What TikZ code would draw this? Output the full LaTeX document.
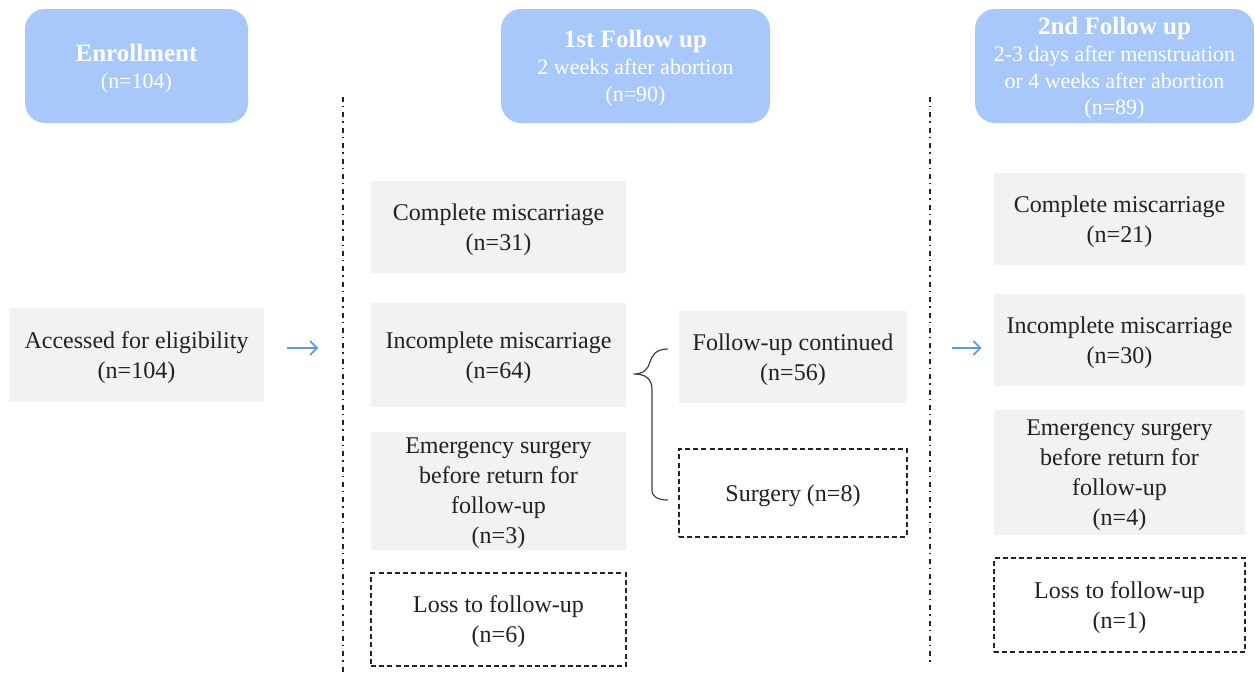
\documentclass[tikz,border=0pt]{standalone}
\usepackage{fontspec}
\setmainfont{Liberation Serif}
\usetikzlibrary{arrows.meta}

\definecolor{headblue}{HTML}{A8C7FA}
\definecolor{boxgray}{HTML}{F2F2F2}
\definecolor{arrblue}{HTML}{5B9BE6}
\definecolor{bracegray}{HTML}{404040}

\tikzset{
  head/.style={fill=headblue, rounded corners=10pt, text=white, align=center,
    inner sep=0pt, minimum height=57pt, text depth=-1.6pt,
    font=\fontsize{11}{13.4}\selectfont},
  graybox/.style={fill=boxgray, align=center, inner sep=0pt, text depth=-1.2pt,
    minimum width=127.5pt, text=black!87, font=\fontsize{12}{15}\selectfont},
  lossbox/.style={graybox, fill=white, draw=black!85, line width=0.8pt,
    dash pattern=on 2.5pt off 1.6pt},
  arr/.style={-{Straight Barb[length=3.5pt,width=7pt]}, arrblue, line width=0.9pt},
  divider/.style={black!85, line width=0.8pt,
    dash pattern=on 2.5pt off 2pt on 0.7pt off 2.5pt}
}

\begin{document}
\begin{tikzpicture}[x=0.5pt, y=-0.5pt]
\useasboundingbox (0,0) rectangle (1255,675);

% Headers
\node[head, minimum width=111.5pt] (enr) at (136.5,66)
  {\textbf{\fontsize{12.5}{14}\selectfont Enrollment}\\(n=104)};
\node[head, minimum width=134.5pt] (fuA) at (635.5,66)
  {\textbf{\fontsize{12.5}{14}\selectfont 1st Follow up}\\2 weeks after abortion\\(n=90)};
\node[head, minimum width=139.5pt] (fuB) at (1114.5,66)
  {\textbf{\fontsize{12.5}{14}\selectfont 2nd Follow up}\\2-3 days after menstruation\\or 4 weeks after abortion\\(n=89)};

% Dividers
\draw[divider] (343,97) -- (343,675);
\draw[divider] (930,97) -- (930,665);

% Enrollment
\node[graybox, minimum height=47pt] (acc) at (136.5,355) {Accessed for eligibility\\(n=104)};

% 1st follow up
\node[graybox, minimum height=46pt] (cmA) at (498.5,227) {Complete miscarriage\\(n=31)};
\node[graybox, minimum height=52pt] (imA) at (498.5,355) {Incomplete miscarriage\\(n=64)};
\node[graybox, minimum height=59pt] (esA) at (498.5,491) {Emergency surgery\\before return for\\follow-up\\(n=3)};
\node[lossbox, minimum height=46.5pt] (lfA) at (498.5,619.5) {Loss to follow-up\\(n=6)};
\node[graybox, minimum width=114pt, minimum height=46pt] (fc) at (793,357) {Follow-up continued\\(n=56)};
\node[lossbox, minimum width=114pt, minimum height=44pt] (sg) at (793,493) {Surgery (n=8)};

% 2nd follow up
\node[graybox, minimum width=125.5pt, minimum height=46pt] (cmB) at (1119.5,219) {Complete miscarriage\\(n=21)};
\node[graybox, minimum width=125.5pt, minimum height=46pt] (imB) at (1119.5,340) {Incomplete miscarriage\\(n=30)};
\node[graybox, minimum width=125.5pt, minimum height=62.5pt] (esB) at (1119.5,472.5) {Emergency surgery\\before return for\\follow-up\\(n=4)};
\node[lossbox, minimum width=125.5pt, minimum height=47pt] (lfB) at (1119.5,605) {Loss to follow-up\\(n=1)};

% Arrows
\draw[arr] ([xshift=11.5pt,yshift=3.5pt]acc.east) -- ([xshift=27pt,yshift=3.5pt]acc.east);
\draw[arr] ([xshift=-21pt,yshift=-4pt]imB.west) -- ([xshift=-6pt,yshift=-4pt]imB.west);

% Brace
\coordinate (tip) at ([xshift=3.5pt,yshift=-9.5pt]imA.east);
\draw[bracegray, line width=0.6pt] (668,349) .. controls (655,349) and (652,356) .. (650,362)
  .. controls (648,369) and (644,374) .. (tip)
  .. controls (645,374) and (652,378) .. (652,390) -- (652,490)
  .. controls (652,497) and (658,500) .. (668,500);

\end{tikzpicture}
\end{document}
